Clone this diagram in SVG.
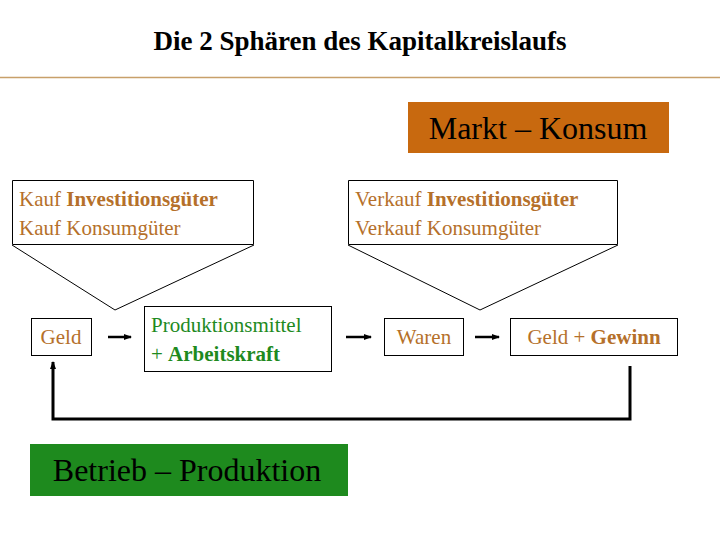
<svg xmlns="http://www.w3.org/2000/svg" width="720" height="540" viewBox="0 0 720 540" font-family="'Liberation Serif', 'Times New Roman', 'DejaVu Serif', serif">
<style>
text{font-family:'Liberation Serif','Times New Roman','DejaVu Serif',serif}
.br{fill:#b5702a}.gr{fill:#1e8a1e}
.box{fill:#fff;stroke:#000;stroke-width:1}
.t{font-size:21px}
.b{font-weight:bold}
.con{stroke:#000;fill:none}
</style>
<defs><marker id="ah" markerUnits="userSpaceOnUse" markerWidth="8" markerHeight="8" refX="7" refY="4" orient="auto"><path d="M0,1L8,4L0,7z" fill="#000"/></marker></defs>
<rect width="720" height="540" fill="#fff"/>
<g id="title"><text x="360" y="50" text-anchor="middle" font-size="27" font-weight="bold">Die 2 Sphären des Kapitalkreislaufs</text>
<line x1="0" y1="77.5" x2="720" y2="77.5" stroke="#c8a06a" stroke-width="1.5"/></g>
<g id="markt"><rect x="408" y="102" width="261" height="51" fill="#c8690f"/><text x="538" y="139" text-anchor="middle" font-size="32">Markt – Konsum</text></g>
<g id="kauf"><path d="M12,245L115,310L254,245" fill="none" stroke="#000"/><path d="M12.5,180.5H253.5V244.5H12.5Z" fill="#fff" stroke="#000"/>
<text class="t br" x="19" y="206">Kauf <tspan class="b">Investitionsgüter</tspan></text>
<text class="t br" x="19" y="235">Kauf Konsumgüter</text></g>
<g id="verkauf"><path d="M348,245L480,310L618,245" fill="none" stroke="#000"/><path d="M348.5,180.5H617.5V244.5H348.5Z" fill="#fff" stroke="#000"/>
<text class="t br" x="355" y="206">Verkauf <tspan class="b">Investitionsgüter</tspan></text>
<text class="t br" x="355" y="235">Verkauf Konsumgüter</text></g>
<g id="geld"><rect class="box" x="31.5" y="318.5" width="60" height="37"/><text class="t br" x="61" y="344" text-anchor="middle">Geld</text></g>
<g id="prod"><rect class="box" x="144.5" y="306.5" width="187" height="65"/><text class="t gr" x="151" y="332">Produktionsmittel</text><text class="t gr" x="151" y="361">+ <tspan class="b">Arbeitskraft</tspan></text></g>
<g id="waren"><rect class="box" x="384.5" y="318.5" width="79" height="37"/><text class="t br" x="424" y="344" text-anchor="middle">Waren</text></g>
<g id="gewinn"><rect class="box" x="510.5" y="318.5" width="167" height="37"/><text class="t br" x="594" y="344" text-anchor="middle">Geld + <tspan class="b">Gewinn</tspan></text></g>
<g id="betrieb"><rect x="30" y="444" width="318" height="52" fill="#1e8a1e"/><text x="187" y="481" text-anchor="middle" font-size="32">Betrieb – Produktion</text></g>
<g id="connectors">
<line class="con" x1="108" y1="337" x2="131" y2="337" stroke-width="2.5" marker-end="url(#ah)"/>
<line class="con" x1="346" y1="337" x2="371" y2="337" stroke-width="2.5" marker-end="url(#ah)"/>
<line class="con" x1="475" y1="337" x2="499" y2="337" stroke-width="2.5" marker-end="url(#ah)"/>
<path class="con" d="M630,366V419H53V362" stroke-width="3" marker-end="url(#ah)"/>
</g>
</svg>
